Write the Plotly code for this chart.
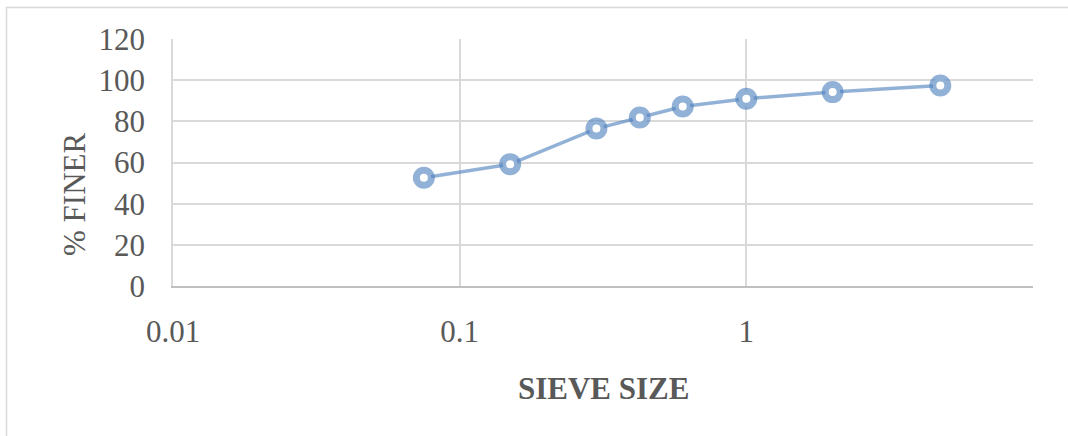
import plotly.graph_objects as go

# Sieve analysis: particle size (mm) vs cumulative percent passing
sieve_size = [0.075, 0.15, 0.3, 0.425, 0.6, 1.0, 2.0, 4.75]
percent_finer = [52.6, 59.2, 76.5, 81.9, 87.2, 91.0, 94.2, 97.4]

x_tick_vals = [0.01, 0.1, 1]
x_tick_text = ["0.01", "0.1", "1"]
y_tick_vals = [0, 20, 40, 60, 80, 100, 120]

W, H = 1068, 436
L, R, T, B = 173, 1033, 39, 286  # plot area in pixels

def px_x(p):
    return (p - L) / (R - L)

def px_y(p):
    return (B - p) / (B - T)

FONT = "Liberation Serif, Times New Roman, serif"
TXT = "#595959"
GRID = "#D9D9D9"
SERIES = "rgba(79,129,189,0.62)"

fig = go.Figure()
fig.add_trace(go.Scatter(
    x=sieve_size, y=percent_finer,
    mode="lines+markers",
    line=dict(color=SERIES, width=3.5),
    marker=dict(symbol="circle", size=15, color="white",
                line=dict(color=SERIES, width=7)),
    showlegend=False,
    cliponaxis=False,
))

fig.update_layout(
    width=W, height=H,
    margin=dict(l=L, r=W - R, t=T, b=H - B),
    paper_bgcolor="white", plot_bgcolor="white",
    font=dict(family=FONT, size=31, color=TXT),
    xaxis=dict(
        type="log", range=[-2, 1],
        tickmode="array", tickvals=x_tick_vals, ticktext=x_tick_text,
        showgrid=True, gridcolor=GRID, gridwidth=1.5,
        showline=True, linecolor="#BFBFBF", linewidth=2,
        ticks="", ticklabelstandoff=17,
        zeroline=False,
    ),
    yaxis=dict(
        range=[0, 120],
        tickmode="array", tickvals=y_tick_vals,
        showgrid=True, gridcolor=GRID, gridwidth=1.5,
        showline=True, linecolor=GRID, linewidth=1.5,
        ticks="", ticklabelstandoff=20,
        zeroline=False,
    ),
    annotations=[
        dict(text="<b>SIEVE SIZE</b>", xref="paper", yref="paper",
             x=px_x(603.5), y=px_y(388.5), xanchor="center", yanchor="middle",
             showarrow=False, font=dict(family=FONT, size=31, color=TXT)),
        dict(text="% FINER", xref="paper", yref="paper",
             x=px_x(74), y=px_y(195), xanchor="center", yanchor="middle",
             textangle=-90, showarrow=False,
             font=dict(family=FONT, size=31, color=TXT)),
    ],
    shapes=[
        dict(type="rect", xref="paper", yref="paper",
             x0=px_x(6.5), y0=px_y(460), x1=px_x(1090), y1=px_y(7.5),
             line=dict(color=GRID, width=1.5), fillcolor="rgba(0,0,0,0)",
             layer="below"),
    ],
)

fig.write_html("out.html")
